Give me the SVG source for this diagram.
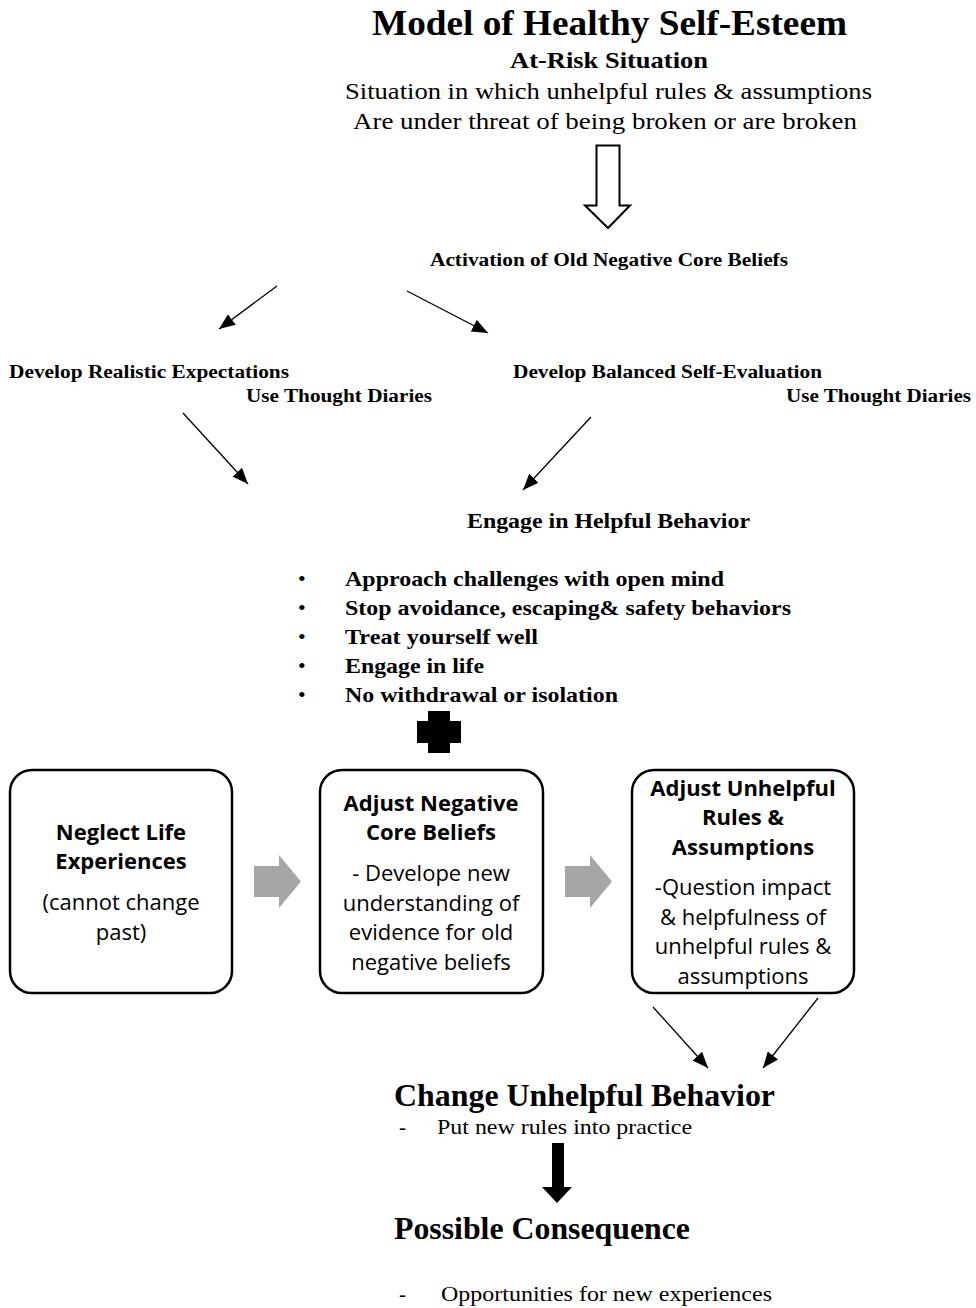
<svg xmlns="http://www.w3.org/2000/svg" width="976" height="1308" viewBox="0 0 976 1308">
<defs>
<style>
.s{font-family:"Liberation Serif","Times New Roman",serif;fill:#000}
.b{font-weight:bold}
.c{font-family:"Open Sans",Lato,sans-serif;fill:#000;font-size:22px;text-anchor:middle}
.box{fill:#fff;stroke:#000;stroke-width:2.5}
.ln{stroke:#000;stroke-width:1.3;fill:none}
.gray{fill:#a6a6a6}
</style>
<marker id="ah" markerWidth="16" markerHeight="13" viewBox="0 0 16 13" refX="16" refY="6.5" orient="auto" markerUnits="userSpaceOnUse" >
<path d="M0,0 L16,6.5 L0,13 z" fill="#000"/>
</marker>
</defs>
<rect width="976" height="1308" fill="#fff"/>

<g id="title">
<text class="s b" x="372" y="35" font-size="36" textLength="475" lengthAdjust="spacingAndGlyphs">Model of Healthy Self-Esteem</text>
</g>
<g id="at-risk">
<text class="s b" x="510" y="68" font-size="24" textLength="198" lengthAdjust="spacingAndGlyphs">At-Risk Situation</text>
<text class="s" x="345" y="99" font-size="24" textLength="527" lengthAdjust="spacingAndGlyphs">Situation in which unhelpful rules &amp; assumptions</text>
<text class="s" x="353" y="129" font-size="24" textLength="504" lengthAdjust="spacingAndGlyphs">Are under threat of being broken or are broken</text>
</g>
<g id="activation">
<text class="s b" x="430" y="266" font-size="18" textLength="358" lengthAdjust="spacingAndGlyphs">Activation of Old Negative Core Beliefs</text>
</g>
<g id="realistic">
<text class="s b" x="9" y="378" font-size="18" textLength="280" lengthAdjust="spacingAndGlyphs">Develop Realistic Expectations</text>
<text class="s b" x="246" y="402" font-size="18" textLength="186" lengthAdjust="spacingAndGlyphs">Use Thought Diaries</text>
</g>
<g id="balanced">
<text class="s b" x="513" y="378" font-size="18" textLength="309" lengthAdjust="spacingAndGlyphs">Develop Balanced Self-Evaluation</text>
<text class="s b" x="786" y="402" font-size="18" textLength="185" lengthAdjust="spacingAndGlyphs">Use Thought Diaries</text>
</g>
<g id="helpful">
<text class="s b" x="467" y="528" font-size="20" textLength="283" lengthAdjust="spacingAndGlyphs">Engage in Helpful Behavior</text>
<g class="s b" font-size="22">
<text x="298" y="586" font-weight="normal">•</text><text x="345" y="586" textLength="379" lengthAdjust="spacingAndGlyphs">Approach challenges with open mind</text>
<text x="298" y="615" font-weight="normal">•</text><text x="345" y="615" textLength="446" lengthAdjust="spacingAndGlyphs">Stop avoidance, escaping&amp; safety behaviors</text>
<text x="298" y="644" font-weight="normal">•</text><text x="345" y="644" textLength="193" lengthAdjust="spacingAndGlyphs">Treat yourself well</text>
<text x="298" y="673" font-weight="normal">•</text><text x="345" y="673" textLength="139" lengthAdjust="spacingAndGlyphs">Engage in life</text>
<text x="298" y="702" font-weight="normal">•</text><text x="345" y="702" textLength="273" lengthAdjust="spacingAndGlyphs">No withdrawal or isolation</text>
</g>
</g>
<g id="plus">
<path d="M428,711 H450 V721 H461 V743 H450 V753 H428 V743 H417 V721 H428 Z" fill="#000"/>
</g>
<g id="box-neglect">
<rect class="box" x="10" y="770" width="222" height="223" rx="22"/>
<text class="c" x="121" y="840" font-weight="bold">Neglect Life</text>
<text class="c" x="121" y="869" font-weight="bold">Experiences</text>
<text class="c" x="121" y="910">(cannot change</text>
<text class="c" x="121" y="940">past)</text>
</g>
<g id="box-core">
<rect class="box" x="320" y="770" width="223" height="223" rx="22"/>
<text class="c" x="431" y="811" font-weight="bold">Adjust Negative</text>
<text class="c" x="431" y="840" font-weight="bold">Core Beliefs</text>
<text class="c" x="431" y="881">- Develope new</text>
<text class="c" x="431" y="911">understanding of</text>
<text class="c" x="431" y="940">evidence for old</text>
<text class="c" x="431" y="970">negative beliefs</text>
</g>
<g id="box-rules">
<rect class="box" x="632" y="770" width="222" height="223" rx="22"/>
<text class="c" x="743" y="796" font-weight="bold">Adjust Unhelpful</text>
<text class="c" x="743" y="825" font-weight="bold">Rules &amp;</text>
<text class="c" x="743" y="855" font-weight="bold">Assumptions</text>
<text class="c" x="743" y="895">-Question impact</text>
<text class="c" x="743" y="925">&amp; helpfulness of</text>
<text class="c" x="743" y="954">unhelpful rules &amp;</text>
<text class="c" x="743" y="984">assumptions</text>
</g>
<g id="change">
<text class="s b" x="394" y="1106" font-size="31" textLength="381" lengthAdjust="spacingAndGlyphs">Change Unhelpful Behavior</text>
<text class="s" x="399" y="1134" font-size="21">-</text>
<text class="s" x="437" y="1134" font-size="21" textLength="255" lengthAdjust="spacingAndGlyphs">Put new rules into practice</text>
</g>
<g id="consequence">
<text class="s b" x="394" y="1239" font-size="31" textLength="296" lengthAdjust="spacingAndGlyphs">Possible Consequence</text>
<text class="s" x="399" y="1301" font-size="21">-</text>
<text class="s" x="441" y="1301" font-size="21" textLength="331" lengthAdjust="spacingAndGlyphs">Opportunities for new experiences</text>
</g>

<g id="connectors">
<path d="M596.5,145.5 H619.5 V205.5 H630 L608,228 L585,205.5 H596.5 Z" fill="#fff" stroke="#000" stroke-width="2"/>
<line class="ln" x1="277" y1="286" x2="219" y2="329" marker-end="url(#ah)"/>
<line class="ln" x1="407" y1="291" x2="488" y2="333" marker-end="url(#ah)"/>
<line class="ln" x1="183" y1="413" x2="248" y2="484" marker-end="url(#ah)"/>
<line class="ln" x1="591" y1="417" x2="523" y2="490" marker-end="url(#ah)"/>
<path class="gray" d="M254,866 H279 V855 L301,881.5 L279,908 V897 H254 Z"/>
<path class="gray" d="M565,866 H590 V855 L612,881.5 L590,908 V897 H565 Z"/>
<line class="ln" x1="653" y1="1007" x2="708" y2="1068" marker-end="url(#ah)"/>
<line class="ln" x1="818" y1="998" x2="763" y2="1068" marker-end="url(#ah)"/>
<path d="M552,1143 H564 V1187 H572 L557,1203 L542,1187 H552 Z" fill="#000"/>
</g>
</svg>
